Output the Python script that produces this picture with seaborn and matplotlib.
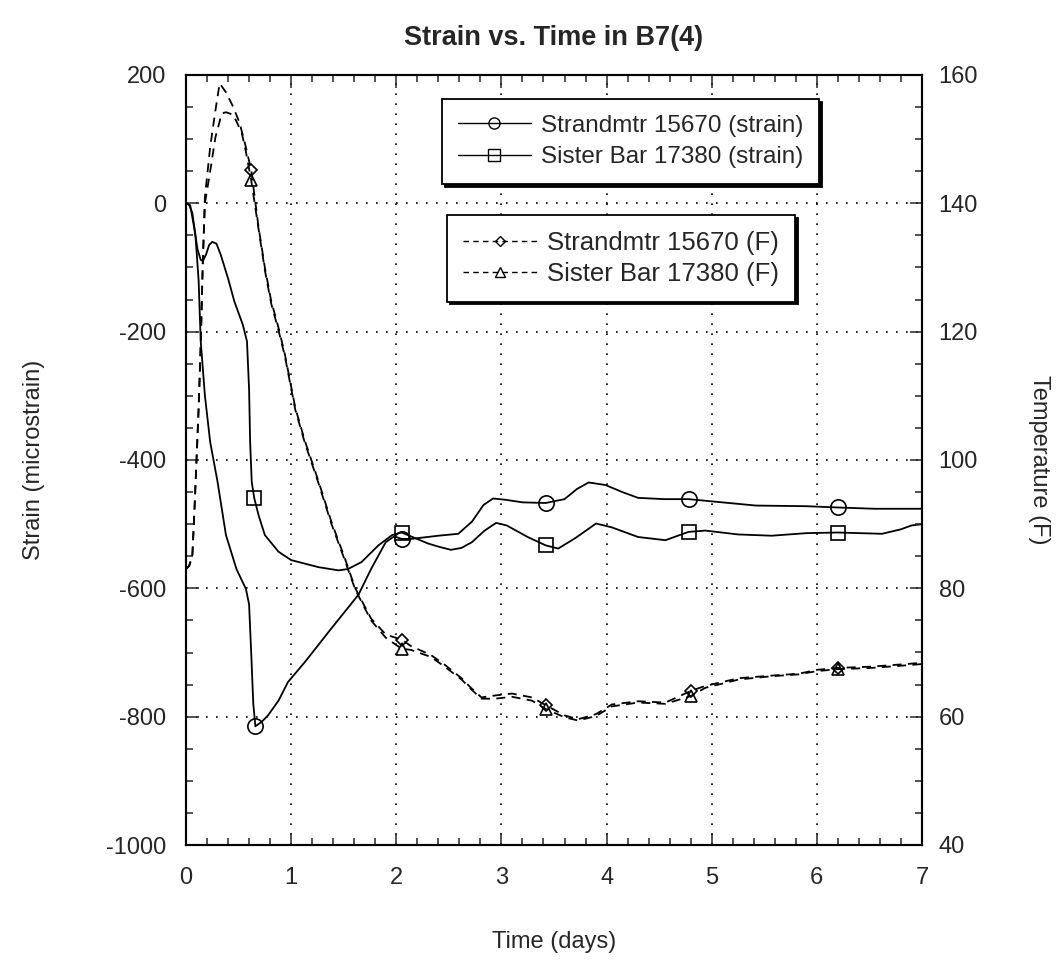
import numpy as np
import pandas as pd
import matplotlib
matplotlib.use("Agg")
import matplotlib.pyplot as plt
from matplotlib.lines import Line2D
from matplotlib.ticker import MultipleLocator
import seaborn as sns

# ---------------- data ----------------
day_s1 = [0, 0.03, 0.06, 0.09, 0.12, 0.14, 0.18, 0.23, 0.30, 0.38, 0.48, 0.57, 0.60, 0.62,
          0.64, 0.66, 0.72, 0.78, 0.88, 0.97, 1.13, 1.38, 1.64, 1.76, 1.90, 1.98, 2.05, 2.14,
          2.40, 2.59, 2.72, 2.83, 2.92, 3.04, 3.20, 3.42, 3.60, 3.72, 3.83, 3.99, 4.15, 4.30,
          4.55, 4.78, 5.10, 5.42, 5.90, 6.20, 6.55, 6.88, 7.0]
strain_s1 = [0, -2, -15, -50, -120, -215, -300, -372, -434, -517, -570, -601, -625, -700,
             -780, -815, -808, -798, -775, -746, -715, -663, -610, -570, -528, -519, -523, -523,
             -518, -515, -496, -470, -460, -462, -466, -467, -461, -445, -435, -439, -450, -459,
             -461, -461, -466, -471, -472, -474, -476, -476, -476]

day_s2 = [0, 0.04, 0.08, 0.11, 0.14, 0.16, 0.19, 0.22, 0.25, 0.29, 0.33, 0.40, 0.46, 0.54,
          0.58, 0.60, 0.61, 0.625, 0.65, 0.69, 0.75, 0.88, 1.0, 1.26, 1.45, 1.54, 1.67, 1.83,
          1.96, 2.05, 2.14, 2.30, 2.40, 2.52, 2.62, 2.72, 2.84, 2.95, 3.05, 3.25, 3.42, 3.54,
          3.70, 3.90, 4.05, 4.30, 4.56, 4.78, 4.94, 5.25, 5.57, 5.90, 6.20, 6.62, 6.80, 6.90, 7.0]
strain_s2 = [0, -3, -40, -72, -88, -90, -80, -65, -60, -63, -80, -117, -153, -189,
             -215, -290, -372, -434, -460, -486, -517, -543, -556, -567, -572, -570, -559, -533,
             -517, -513, -519, -530, -535, -540, -537, -528, -510, -498, -502, -520, -533, -538,
             -522, -499, -505, -520, -525, -512, -510, -516, -518, -514, -513, -515, -508, -502, -500]

day_t1 = [0, 0.03, 0.06, 0.08, 0.10, 0.12, 0.14, 0.16, 0.18, 0.23, 0.28, 0.32, 0.38, 0.45,
          0.51, 0.56, 0.62, 0.69, 0.75, 0.81, 0.88, 0.94, 1.04, 1.13, 1.26, 1.38, 1.51, 1.61,
          1.76, 1.90, 2.05, 2.14, 2.33, 2.46, 2.62, 2.71, 2.81, 2.94, 3.10, 3.29, 3.42, 3.60,
          3.73, 3.90, 4.05, 4.30, 4.56, 4.80, 4.94, 5.26, 5.57, 5.83, 6.00, 6.20, 6.52, 6.85, 7.0]
temp_t1 = [83, 83.5, 85, 92, 100, 108, 118, 131, 141, 148.8, 154.5, 158.7, 157.3, 155,
           152.5, 149.4, 145.2, 136.3, 130, 124.8, 120.6, 116.5, 108.1, 103, 96.7, 90.5, 84.7, 80,
           75.3, 72.8, 72.0, 71, 69.6, 68.1, 66, 64.5, 63, 63.3, 63.6, 63, 61.8, 60.2,
           59.6, 60.4, 61.9, 62.4, 62.2, 64.0, 64.8, 66.0, 66.4, 66.7, 67.3, 67.6, 67.8, 68.2, 68.4]

day_t2 = [0, 0.03, 0.06, 0.08, 0.10, 0.12, 0.14, 0.16, 0.18, 0.23, 0.28, 0.34, 0.38, 0.45,
          0.49, 0.53, 0.57, 0.62, 0.69, 0.75, 0.81, 0.88, 0.94, 1.04, 1.13, 1.26, 1.38, 1.51,
          1.61, 1.76, 1.90, 2.05, 2.14, 2.33, 2.46, 2.62, 2.71, 2.81, 2.94, 3.10, 3.29, 3.42,
          3.60, 3.73, 3.90, 4.05, 4.30, 4.56, 4.80, 4.94, 5.26, 5.57, 5.83, 6.00, 6.20, 6.52, 6.85, 7.0]
temp_t2 = [83, 83.5, 85, 92, 100, 108, 118, 131, 140, 145, 150.3, 154, 154.2, 153.8,
           152.4, 151, 148, 143.6, 136, 129.6, 124.4, 120.2, 116.2, 107.8, 102.7, 96.4, 90.2, 84.4,
           79.8, 75, 72.3, 70.6, 70.4, 69.3, 67.8, 65.8, 64.3, 62.8, 62.8, 63.1, 62.5, 61.2,
           59.9, 59.4, 60.1, 61.6, 62.2, 62.0, 63.2, 64.5, 65.8, 66.3, 66.6, 67.1, 67.4, 67.6, 68.0, 68.2]

mark_s1 = [0.66, 2.05, 3.42, 4.78, 6.20]
mark_s2 = [0.65, 2.05, 3.42, 4.78, 6.20]
mark_t = [0.62, 2.05, 3.42, 4.80, 6.20]

labels_strain = ["Strandmtr 15670 (strain)", "Sister Bar 17380 (strain)"]
labels_temp = ["Strandmtr 15670 (F)", "Sister Bar 17380 (F)"]

title = "Strain vs. Time in B7(4)"
xlabel = "Time (days)"
ylabel_left = "Strain (microstrain)"
ylabel_right = "Temperature (F)"

# ---------------- style ----------------
sns.set_style("ticks")
plt.rcParams['font.family'] = ['Liberation Sans', 'DejaVu Sans']
plt.rcParams['font.size'] = 17
plt.rcParams['axes.unicode_minus'] = False

W, H = 1059, 977
fig = plt.figure(figsize=(W / 100, H / 100), dpi=100)
ax_l, ax_r, ax_t, ax_b = 186, 922, 75, 845
ax = fig.add_axes([ax_l / W, 1 - ax_b / H, (ax_r - ax_l) / W, (ax_b - ax_t) / H])
ax2 = ax.twinx()

LW = 1.3
dash = (0, (5, 3.5))

def idx(days, marks):
    return [days.index(d) for d in marks]

sns.lineplot(x=day_s1, y=strain_s1, ax=ax, color='black', lw=LW, marker='o', markersize=11,
             markerfacecolor='none', markeredgecolor='black', markeredgewidth=1.2,
             markevery=idx(day_s1, mark_s1), sort=False)
sns.lineplot(x=day_s2, y=strain_s2, ax=ax, color='black', lw=LW, marker='s', markersize=10,
             markerfacecolor='none', markeredgecolor='black', markeredgewidth=1.2,
             markevery=idx(day_s2, mark_s2), sort=False)
sns.lineplot(x=day_t1, y=temp_t1, ax=ax2, color='black', lw=LW, linestyle=dash, marker='D',
             markersize=6, markerfacecolor='none', markeredgecolor='black', markeredgewidth=1.2,
             markevery=idx(day_t1, mark_t), sort=False)
sns.lineplot(x=day_t2, y=temp_t2, ax=ax2, color='black', lw=LW, linestyle=dash, marker='^',
             markersize=9, markerfacecolor='none', markeredgecolor='black', markeredgewidth=1.2,
             markevery=idx(day_t2, mark_t), sort=False)

# ---------------- axes ----------------
ax.set_xlim(0, 7)
ax.set_ylim(-1000, 200)
ax2.set_ylim(40, 160)
ax.xaxis.set_major_locator(MultipleLocator(1))
ax.xaxis.set_minor_locator(MultipleLocator(0.2))
ax.yaxis.set_major_locator(MultipleLocator(200))
ax.yaxis.set_minor_locator(MultipleLocator(50))
ax2.yaxis.set_major_locator(MultipleLocator(20))
ax2.yaxis.set_minor_locator(MultipleLocator(5))

ax.grid(True, which='major', color='black', linestyle=(0, (1, 5)), linewidth=1.2)
ax.tick_params(which='both', direction='in', top=True, right=False, width=1.1, labelsize=17)
ax.tick_params(which='major', length=9)
ax.tick_params(which='minor', length=5)
ax.tick_params(axis='y', pad=14)
ax.tick_params(axis='x', pad=16)
ax2.tick_params(which='both', direction='in', width=1.1, labelsize=17, pad=12)
ax2.tick_params(which='major', length=9)
ax2.tick_params(which='minor', length=5)

for sp in list(ax.spines.values()) + list(ax2.spines.values()):
    sp.set_linewidth(1.5)
    sp.set_color('black')

ax.set_xlabel(xlabel, fontsize=17, labelpad=30)
ax.set_ylabel(ylabel_left, fontsize=17, labelpad=44)
ax2.set_ylabel(ylabel_right, fontsize=17, rotation=270, labelpad=52)
fig.text((ax_l + ax_r) / 2 / W, 1 - 38 / H, title, ha='center', va='center',
         fontsize=19.5, fontweight='bold')

# ---------------- legends ----------------
h_strain = [Line2D([], [], color='black', lw=1.0, marker='o', markersize=8, markerfacecolor='none'),
            Line2D([], [], color='black', lw=1.0, marker='s', markersize=8, markerfacecolor='none')]
h_temp = [Line2D([], [], color='black', lw=1.0, linestyle=(0, (4, 3)), marker='D', markersize=5,
                 markerfacecolor='none'),
          Line2D([], [], color='black', lw=1.0, linestyle=(0, (4, 3)), marker='^', markersize=7,
                 markerfacecolor='none')]

common = dict(frameon=True, fancybox=False, loc='upper left', borderaxespad=0,
              handletextpad=0.4, numpoints=1, shadow={'color': 'black', 'alpha': 1.0})
leg1 = ax2.legend(h_strain, labels_strain, bbox_to_anchor=(0.348, 0.969), fontsize=17.5,
                  handlelength=3.0, labelspacing=0.4, borderpad=0.65, **common)
leg1.get_frame().set_edgecolor('black')
leg1.get_frame().set_linewidth(1.3)
ax2.add_artist(leg1)
leg2 = ax2.legend(h_temp, labels_temp, bbox_to_anchor=(0.355, 0.818), fontsize=18.5,
                  handlelength=2.9, labelspacing=0.3, borderpad=0.6, **common)
leg2.get_frame().set_edgecolor('black')
leg2.get_frame().set_linewidth(1.3)

fig.savefig("out.png", dpi=100)
